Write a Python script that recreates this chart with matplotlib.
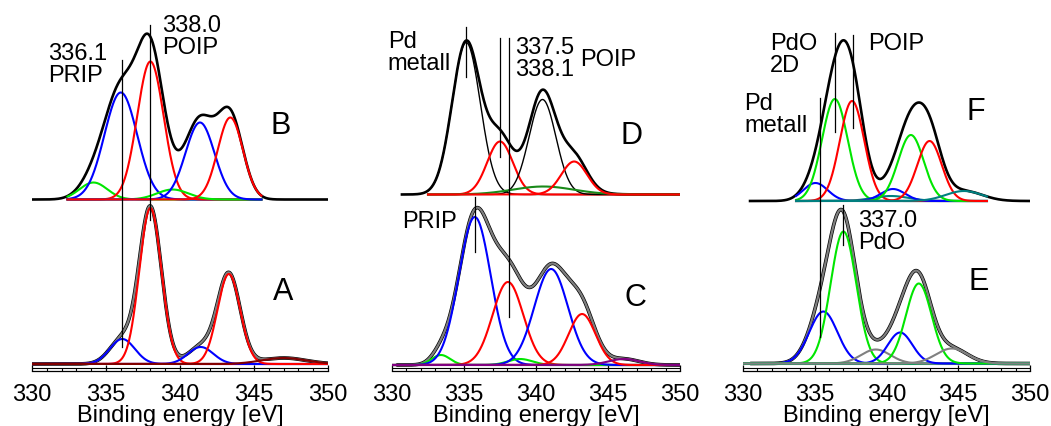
import numpy as np
import matplotlib
matplotlib.use("Agg")
import matplotlib.pyplot as plt
from matplotlib.ticker import MultipleLocator

plt.rcParams['font.family'] = ['Liberation Sans', 'DejaVu Sans']

# ---------------- data: fitted Pd 3d components (BE eV, height a.u., FWHM eV)
A_center = [336.1, 338.0, 341.4, 343.3, 347.0]
A_height = [25, 156, 17, 90, 6]
A_fwhm = [2.0, 1.75, 2.0, 1.8, 3.5]

B_center = [334.15, 336.0, 338.0, 339.5, 341.35, 343.4]
B_height = [17, 107, 138, 10, 77, 82]
B_fwhm = [2.2, 2.6, 2.1, 2.5, 2.3, 2.0]

C_center = [333.4, 335.75, 338.05, 338.9, 341.05, 343.2, 346.1]
C_height = [10, 148, 83, 6, 96, 51, 6]
C_fwhm = [1.5, 2.6, 2.5, 2.0, 2.75, 2.2, 2.5]

D_center = [335.15, 337.5, 340.45, 340.5, 342.65]
D_height = [152, 53, 95, 8, 33]
D_fwhm = [2.3, 2.1, 2.2, 5.0, 2.1]

E_center = [335.6, 337.0, 339.25, 340.95, 342.25, 344.55]
E_height = [52, 132, 14, 31, 80, 15]
E_fwhm = [2.3, 2.1, 2.4, 2.0, 2.1, 2.6]

F_center = [335.05, 336.4, 337.6, 340.3, 340.45, 341.7, 343.0, 345.4]
F_height = [18, 102, 100, 5, 12, 66, 60, 10]
F_fwhm = [2.0, 2.1, 2.0, 3.0, 2.0, 2.1, 2.0, 3.0]

# marker lines (binding energies)
lines_AB = [336.1, 338.0]
lines_CD = [335.15, 337.5, 338.1, 335.75]
lines_EF = [335.35, 336.4, 337.7, 337.0]

xticks = [330, 335, 340, 345, 350]
xlabel = "Binding energy [eV]"

# ---------------- styles
RED, BLUE, GREEN = '#ff0000', '#0000ff', '#00e600'
A_col = [BLUE, RED, BLUE, RED, '#800000']
B_col = [GREEN, BLUE, RED, GREEN, BLUE, RED]
C_col = [GREEN, BLUE, RED, GREEN, BLUE, RED, '#800080']
D_col = ['black', RED, 'black', '#1a8a1a', RED]
E_col = [BLUE, GREEN, '#808080', BLUE, GREEN, '#808080']
F_col = [BLUE, GREEN, RED, '#008080', BLUE, GREEN, RED, '#008080']


def gauss(x, c, h, w):
    s = w / 2.3548
    return h * np.exp(-0.5 * ((x - c) / s) ** 2)


def draw(ax, cen, hei, fw, cols, offset, fit_range, data_range,
         envelope=True, base_col=None, comp_lw=1.5):
    x = np.linspace(data_range[0], data_range[1], 800)
    total = np.zeros_like(x)
    for c, h, w in zip(cen, hei, fw):
        total += gauss(x, c, h, w)
    ax.plot(x, total + offset, color='black', lw=2.6 if envelope else 1.9,
            zorder=2, solid_capstyle='butt')
    if envelope:
        ax.plot(x, total + offset, color='#7f7f7f', lw=1.6, zorder=3)
    xf = np.linspace(fit_range[0], fit_range[1], 800)
    if base_col is not None:
        ax.plot(xf, np.zeros_like(xf) + offset, color=base_col, lw=1.5, zorder=4)
    for c, h, w, col in zip(cen, hei, fw, cols):
        lw = 1.0 if col == 'black' else comp_lw
        ax.plot(xf, gauss(xf, c, h, w) + offset, color=col, lw=lw, zorder=4)


W, H = 1051, 427
AXIS_Y = 371.5
fig = plt.figure(figsize=(W / 100, H / 100), dpi=100)
rects = [(32, 296), (392, 288), (743, 287)]
FS = 17
BIG = 22
axes = []
for left, width in rects:
    ax = fig.add_axes([left / W, (H - AXIS_Y) / H, width / W, AXIS_Y / H])
    ax.set_xlim(330, 350)
    ax.set_ylim(0, AXIS_Y)
    for s in ['left', 'right', 'top']:
        ax.spines[s].set_visible(False)
    ax.spines['bottom'].set_linewidth(0.9)
    ax.set_yticks([])
    ax.set_xticks(xticks)
    ax.xaxis.set_minor_locator(MultipleLocator(1))
    ax.tick_params(axis='x', which='major', direction='in', length=4.0,
                   width=0.9, labelsize=FS, pad=9)
    ax.tick_params(axis='x', which='minor', direction='in', length=2.5,
                   width=0.8)
    ax.axhline(3.0, color='black', lw=0.8, zorder=1)
    ax.set_xlabel(xlabel, fontsize=FS, labelpad=-1)
    ax.patch.set_alpha(0)
    axes.append(ax)

ax1, ax2, ax3 = axes

# ---- panel 1: A (bottom), B (top)
draw(ax1, A_center, A_height, A_fwhm, A_col, 6.5, (330, 350), (330, 350))
draw(ax1, B_center, B_height, B_fwhm, B_col, 171, (332.4, 345.5), (330, 350),
     envelope=False)
ax1.plot([lines_AB[0]] * 2, [24, 311], color='black', lw=0.9, zorder=6)
ax1.plot([lines_AB[1]] * 2, [151, 346], color='black', lw=0.9, zorder=6)
ax1.text(331.08, 328, "336.1\nPRIP", fontsize=FS, va='top', ha='left', linespacing=1.0)
ax1.text(338.8, 356, "338.0\nPOIP", fontsize=FS, va='top', ha='left', linespacing=1.0)
ax1.text(346.8, 246, "B", fontsize=BIG, ha='center', va='center')
ax1.text(347.0, 79, "A", fontsize=BIG, ha='center', va='center')

# ---- panel 2: C (bottom), D (top)
draw(ax2, C_center, C_height, C_fwhm, C_col, 5.5, (330, 350), (330.3, 350),
     base_col='#800080')
draw(ax2, D_center, D_height, D_fwhm, D_col, 176, (332.5, 350), (330.6, 350),
     envelope=False)
ax2.plot([lines_CD[0]] * 2, [294, 344], color='black', lw=0.9, zorder=6)
ax2.plot([lines_CD[1]] * 2, [214, 333], color='black', lw=0.9, zorder=6)
ax2.plot([lines_CD[2]] * 2, [54, 333], color='black', lw=0.9, zorder=6)
ax2.plot([lines_CD[3]] * 2, [119, 174], color='black', lw=0.9, zorder=6)
ax2.text(329.7, 340, "Pd\nmetall", fontsize=FS, va='top', ha='left', linespacing=1.0)
ax2.text(338.54, 335, "337.5\n338.1", fontsize=FS, va='top', ha='left', linespacing=1.0)
ax2.text(343.06, 311, "POIP", fontsize=FS, va='center', ha='left')
ax2.text(346.65, 236, "D", fontsize=BIG, ha='center', va='center')
ax2.text(330.67, 149, "PRIP", fontsize=FS, va='center', ha='left')
ax2.text(346.9, 73, "C", fontsize=BIG, ha='center', va='center')

# ---- panel 3: E (bottom), F (top)
draw(ax3, E_center, E_height, E_fwhm, E_col, 7, (330, 350), (330.5, 350),
     base_col='#5f8f80')
draw(ax3, F_center, F_height, F_fwhm, F_col, 169.5, (333.7, 347), (330.4, 350),
     envelope=False, base_col='#008080')
ax3.plot([lines_EF[0]] * 2, [34, 273], color='black', lw=0.9, zorder=6)
ax3.plot([lines_EF[1]] * 2, [239, 338], color='black', lw=0.9, zorder=6)
ax3.plot([lines_EF[2]] * 2, [243, 336], color='black', lw=0.9, zorder=6)
ax3.plot([lines_EF[3]] * 2, [126, 166], color='black', lw=0.9, zorder=6)
ax3.text(331.9, 338, "PdO\n2D", fontsize=FS, va='top', ha='left', linespacing=1.0)
ax3.text(338.7, 328, "POIP", fontsize=FS, va='center', ha='left')
ax3.text(330.1, 278, "Pd\nmetall", fontsize=FS, va='top', ha='left', linespacing=1.0)
ax3.text(346.2, 259, "F", fontsize=BIG, ha='center', va='center')
ax3.text(338.0, 161, "337.0\nPdO", fontsize=FS, va='top', ha='left', linespacing=1.0)
ax3.text(346.4, 89, "E", fontsize=BIG, ha='center', va='center')

fig.savefig("out.png", dpi=100)
